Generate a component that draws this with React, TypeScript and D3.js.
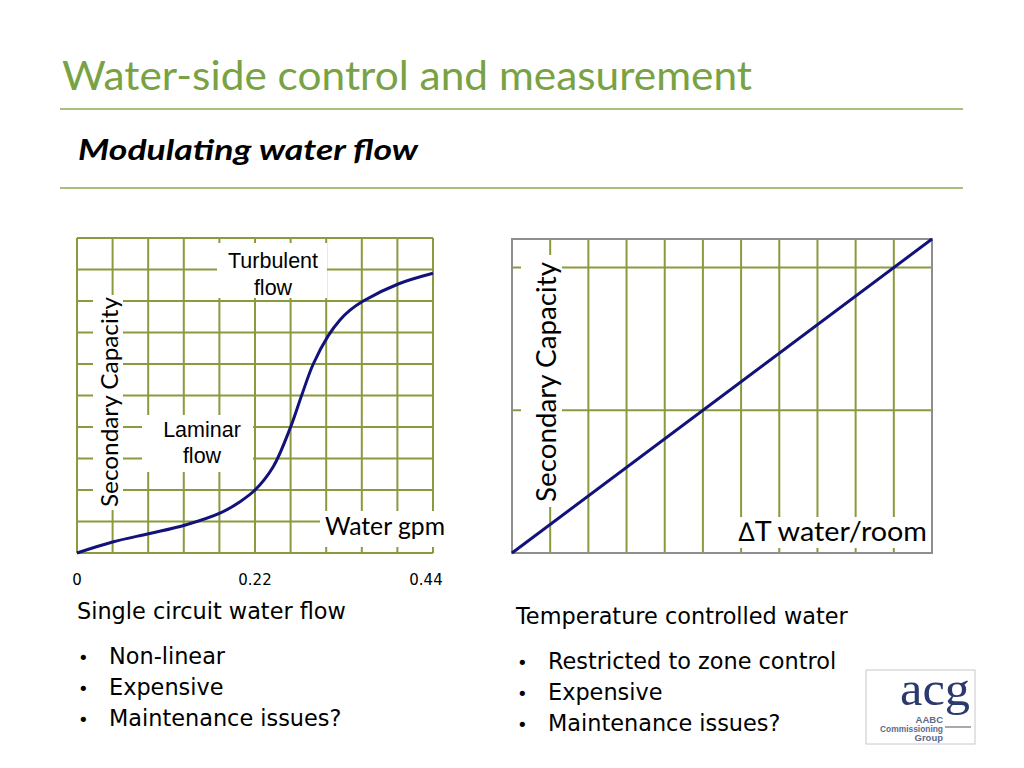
import * as d3 from 'd3';

// left chart: single circuit water flow (gpm vs % secondary capacity)
const flowGpm = [0, 0.044, 0.09, 0.133, 0.178, 0.2015, 0.22, 0.2425, 0.264, 0.2776, 0.292, 0.3106, 0.325, 0.3375, 0.3538, 0.397, 0.44];
const flowCapacity = [0, 3.5, 6.2, 8.8, 12.8, 16.3, 20, 27.4, 40, 50, 60, 69, 74, 77.1, 80, 85.4, 88.8];
const flowTicks = [0, 0.22, 0.44];

// right chart: temperature controlled water (linear)
const deltaT = [0, 11];
const tempCapacity = [0, 2.2];

const leftBullets = ['Non-linear', 'Expensive', 'Maintenance issues?'];
const rightBullets = ['Restricted to zone control', 'Expensive', 'Maintenance issues?'];

const GRID = '#8b9a3d';
const FRAME = '#8e8e8e';
const CURVE = '#12127a';
const GREEN = '#78a244';
const RULE = '#a3c27c';
const BODY = '"DejaVu Sans", Verdana, sans-serif';
const GILL = 'Lato, "Open Sans", sans-serif';

function LeftChart() {
  const x = d3.scaleLinear().domain([0, 0.44]).range([77, 433]);
  const y = d3.scaleLinear().domain([0, 100]).range([553, 238]);
  const gx = d3.range(11).map((i) => i * 0.044);
  const gy = d3.range(11).map((i) => i * 10);
  const pts = flowGpm.map((g, i) => [g, flowCapacity[i]] as [number, number]);
  const path =
    d3
      .line<[number, number]>()
      .x((d) => x(d[0]))
      .y((d) => y(d[1]))
      .curve(d3.curveCatmullRom.alpha(0.5))(pts) ?? '';

  return (
    <g>
      {gx.map((v, i) => (
        <line key={'vx' + i} x1={x(v)} x2={x(v)} y1={y(0)} y2={y(100)} stroke={GRID} strokeWidth={2} />
      ))}
      {gy.map((v, i) => (
        <line key={'hy' + i} x1={x(0)} x2={x(0.44)} y1={y(v)} y2={y(v)} stroke={GRID} strokeWidth={2} />
      ))}
      {/* label backgrounds */}
      <rect x={93} y={295} width={30} height={215} fill="#fff" />
      <rect x={217} y={243} width={110} height={55} fill="#fff" />
      <rect x={142} y={415} width={111} height={57} fill="#fff" />
      <rect x={320} y={511} width={127} height={36} fill="#fff" />
      <path d={path} fill="none" stroke={CURVE} strokeWidth={3} />

      <text
        transform="translate(118,402) rotate(-90)"
        textAnchor="middle"
        fontFamily={GILL}
        fontSize={24}
        textLength={210}
        lengthAdjust="spacingAndGlyphs"
      >
        Secondary Capacity
      </text>
      <g fontFamily='"Liberation Sans", Arial, sans-serif' fontSize={21.5} textAnchor="middle">
        <text x={273} y={268}>Turbulent</text>
        <text x={273} y={295}>flow</text>
        <text x={202} y={437}>Laminar</text>
        <text x={202} y={463}>flow</text>
      </g>
      <text x={325} y={535} fontFamily={GILL} fontSize={25} textLength={120} lengthAdjust="spacingAndGlyphs">
        Water gpm
      </text>
      {flowTicks.map((t, i) => (
        <text
          key={'t' + i}
          x={x(t) + (i === flowTicks.length - 1 ? -7 : 0)}
          y={585}
          textAnchor="middle"
          fontFamily={BODY}
          fontSize={15}
        >
          {t === 0 ? '0' : String(t)}
        </text>
      ))}
    </g>
  );
}

function RightChart() {
  const x = d3.scaleLinear().domain([0, 11]).range([512, 932]);
  const y = d3.scaleLinear().domain([0, 2.2]).range([553, 239]);
  const gx = d3.range(1, 11);
  const gy = [1, 2];
  const pts = deltaT.map((d, i) => [d, tempCapacity[i]] as [number, number]);
  const path =
    d3
      .line<[number, number]>()
      .x((d) => x(d[0]))
      .y((d) => y(d[1]))(pts) ?? '';

  return (
    <g>
      {gx.map((v) => (
        <line key={'vx' + v} x1={x(v)} x2={x(v)} y1={y(0)} y2={y(2.2)} stroke={GRID} strokeWidth={2} />
      ))}
      {gy.map((v) => (
        <line key={'hy' + v} x1={x(0)} x2={x(11)} y1={y(v)} y2={y(v)} stroke={GRID} strokeWidth={2} />
      ))}
      <rect
        x={x(0)}
        y={y(2.2)}
        width={x(11) - x(0)}
        height={y(0) - y(2.2)}
        fill="none"
        stroke={FRAME}
        strokeWidth={2}
      />
      <rect x={521} y={255} width={41} height={252} fill="#fff" />
      <rect x={733} y={517} width={198} height={31} fill="#fff" />
      <path d={path} fill="none" stroke={CURVE} strokeWidth={3} />
      <text
        transform="translate(556,382) rotate(-90)"
        textAnchor="middle"
        fontFamily={GILL}
        fontSize={27}
        textLength={240}
        lengthAdjust="spacingAndGlyphs"
      >
        Secondary Capacity
      </text>
      <text x={738} y={541} fontFamily={GILL} fontSize={26} textLength={189} lengthAdjust="spacingAndGlyphs">
        ∆T water/room
      </text>
    </g>
  );
}

function Bullets({ x, top, title, items }: { x: number; top: number; title: string; items: string[] }) {
  return (
    <g fontFamily={BODY} fontSize={22.4} fill="#000">
      <text x={x} y={top}>
        {title}
      </text>
      {items.map((s, i) => (
        <g key={s + i}>
          <text x={x + 1} y={top + 45 + i * 31} fontSize={18}>
            •
          </text>
          <text x={x + 32} y={top + 45 + i * 31}>
            {s}
          </text>
        </g>
      ))}
    </g>
  );
}

function Logo() {
  return (
    <g>
      <rect x={866} y={670} width={109} height={74} fill="#fff" stroke="#c8c8c8" strokeWidth={1} />
      <text x={900} y={705} fontFamily='"Liberation Serif", serif' fontSize={48} fill="#2b3a6e" textLength={70} lengthAdjust="spacingAndGlyphs">
        acg
      </text>
      <g fontFamily='"Liberation Sans", Arial, sans-serif' fontWeight="bold" fontSize={9.5} fill="#5b6b8c" textAnchor="end">
        <text x={943} y={723}>AABC</text>
        <text x={943} y={732} textLength={63} lengthAdjust="spacingAndGlyphs">
          Commissioning
        </text>
        <text x={943} y={741}>Group</text>
      </g>
      <line x1={945} x2={971} y1={727} y2={727} stroke="#8d8d8d" strokeWidth={1.5} />
    </g>
  );
}

export default function App() {
  return (
    <div style={{ position: 'absolute', left: 0, top: 0 }}>
      <svg width={1024} height={768} viewBox="0 0 1024 768" style={{ display: 'block', background: '#fff' }}>
        <rect width={1024} height={768} fill="#fff" />
        <text x={62} y={90} fontFamily={GILL} fontSize={40} fill={GREEN} textLength={690} lengthAdjust="spacingAndGlyphs">
          Water-side control and measurement
        </text>
        <line x1={60} x2={963} y1={109} y2={109} stroke={RULE} strokeWidth={2} />
        <text
          x={78}
          y={160}
          fontFamily={GILL}
          fontSize={29}
          fontWeight="bold"
          fontStyle="italic"
          textLength={340}
          lengthAdjust="spacingAndGlyphs"
        >
          Modulating water flow
        </text>
        <line x1={60} x2={963} y1={188} y2={188} stroke={RULE} strokeWidth={2} />
        <LeftChart />
        <RightChart />
        <Bullets x={77} top={619} title="Single circuit water flow" items={leftBullets} />
        <Bullets x={516} top={624} title="Temperature controlled water" items={rightBullets} />
        <Logo />
      </svg>
    </div>
  );
}
